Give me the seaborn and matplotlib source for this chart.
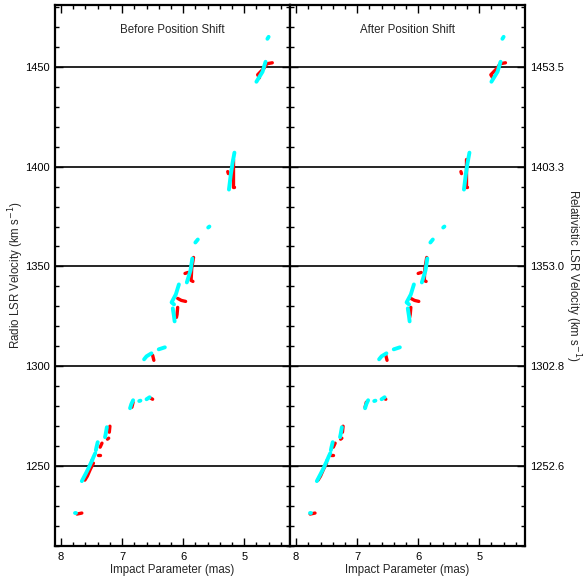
import numpy as np
import pandas as pd
import matplotlib
matplotlib.use("Agg")
import matplotlib.pyplot as plt
import seaborn as sns
from matplotlib.ticker import MultipleLocator

sns.set_style("ticks")
plt.rcParams["font.family"] = ["Liberation Sans", "DejaVu Sans"]

panel_titles = ["Before Position Shift", "After Position Shift"]
radio_ticks = [1250, 1300, 1350, 1400, 1450]
relativistic_labels = ["1252.6", "1302.8", "1353.0", "1403.3", "1453.5"]
x_ticks = [8, 7, 6, 5]

# cyan spots (impact parameter, radio velocity, feature id)
cyan_x = [4.60, 4.62,
          4.65, 4.70, 4.80,
          5.16, 5.19, 5.22, 5.25,
          5.57, 5.59,
          5.76, 5.80,
          5.85, 5.88, 5.92, 5.94,
          6.07, 6.12, 6.19, 6.15,
          6.17, 6.15, 6.14,
          6.64, 6.60, 6.52,
          6.40, 6.30,
          6.87, 6.85, 6.82,
          6.72, 6.70,
          6.60, 6.55,
          7.25, 7.27, 7.28,
          7.40, 7.42, 7.43,
          7.44, 7.47, 7.49,
          7.49, 7.55, 7.60, 7.66,
          7.78, 7.76]
cyan_y = [1465.0, 1464.0,
          1452.5, 1447.5, 1442.5,
          1407.0, 1402.0, 1396.0, 1388.5,
          1370.0, 1369.5,
          1363.5, 1362.0,
          1354.0, 1348.0, 1344.0, 1342.0,
          1341.0, 1336.0, 1332.0, 1331.0,
          1329.0, 1325.0, 1322.5,
          1303.5, 1305.0, 1306.5,
          1308.5, 1309.5,
          1279.0, 1281.0, 1283.0,
          1282.6, 1282.8,
          1283.5, 1284.5,
          1269.5, 1266.0, 1264.5,
          1262.0, 1259.5, 1258.0,
          1256.5, 1254.5, 1253.0,
          1253.0, 1249.0, 1246.0, 1242.5,
          1226.5, 1226.5]
cyan_seg = [0, 0, 1, 1, 1, 2, 2, 2, 2, 3, 3, 4, 4, 5, 5, 5, 5,
            6, 6, 6, 6, 7, 7, 7, 8, 8, 8, 9, 9, 10, 10, 10, 11, 11,
            12, 12, 13, 13, 13, 14, 14, 14, 15, 15, 15, 16, 16, 16, 16,
            17, 17]

# red spots
red_x = [4.54, 4.63, 4.67, 4.78, 4.75,
         5.19, 5.19, 5.19, 5.17,
         5.27, 5.26,
         5.83, 5.86, 5.87, 5.84,
         5.97, 5.92,
         6.09, 6.03, 5.96,
         6.09, 6.10, 6.11,
         6.50, 6.48,
         6.84, 6.82,
         6.53, 6.50,
         7.20, 7.21,
         7.22, 7.24,
         7.33, 7.36,
         7.37, 7.40,
         7.47, 7.52, 7.57, 7.61,
         7.74, 7.66]
red_y = [1452.0, 1451.5, 1449.5, 1446.0, 1444.5,
         1404.0, 1397.0, 1390.0, 1390.0,
         1397.5, 1396.5,
         1354.5, 1349.0, 1343.0, 1342.5,
         1346.5, 1347.0,
         1334.0, 1333.0, 1332.5,
         1329.5, 1326.0, 1324.5,
         1305.5, 1303.0,
         1279.5, 1282.0,
         1284.0, 1283.5,
         1270.0, 1267.0,
         1264.0, 1263.5,
         1261.5, 1259.5,
         1255.5, 1255.5,
         1251.5, 1248.5, 1245.0, 1243.0,
         1226.0, 1226.5]
red_seg = [0, 0, 0, 0, 0, 1, 1, 1, 1, 2, 2, 3, 3, 3, 3, 4, 4,
           5, 5, 5, 6, 6, 6, 7, 7, 8, 8, 9, 9, 10, 10, 11, 11,
           12, 12, 13, 13, 14, 14, 14, 14, 15, 15]
position_shift_mas = 0.03

cyan_df = pd.DataFrame({"x": cyan_x, "y": cyan_y, "seg": cyan_seg})
red_before = pd.DataFrame({"x": red_x, "y": red_y, "seg": red_seg})
red_after = red_before.assign(x=red_before["x"] + position_shift_mas)

FS = 8.0
LFS = 8.3
fig = plt.figure(figsize=(5.83, 5.80), dpi=100)
ax1 = fig.add_axes([0.0943, 0.0586, 0.4031, 0.933])
ax2 = fig.add_axes([0.4974, 0.0586, 0.4031, 0.933])

for ax, red_df, title in [(ax1, red_before, panel_titles[0]),
                          (ax2, red_after, panel_titles[1])]:
    for v in radio_ticks:
        ax.axhline(v, color="black", lw=1.2, zorder=1)
    sns.lineplot(data=red_df, x="x", y="y", units="seg", estimator=None,
                 sort=False, color="#ff0000", lw=2.4, ax=ax, zorder=2,
                 solid_capstyle="round")
    sns.lineplot(data=cyan_df, x="x", y="y", units="seg", estimator=None,
                 sort=False, color="#00ffff", lw=2.8, ax=ax, zorder=3,
                 solid_capstyle="round")
    ax.set_xlim(8.1, 4.25)
    ax.set_ylim(1210, 1481)
    ax.set_xticks(x_ticks)
    ax.xaxis.set_minor_locator(MultipleLocator(0.2))
    ax.yaxis.set_minor_locator(MultipleLocator(10))
    ax.tick_params(which="both", direction="in", top=True, right=True,
                   left=True, bottom=True, width=1.0, labelsize=FS,
                   colors="black", pad=4)
    ax.tick_params(which="major", length=6)
    ax.tick_params(which="minor", length=3)
    for s in ax.spines.values():
        s.set_linewidth(1.6)
        s.set_color("black")
    ax.set_xlabel("Impact Parameter (mas)", fontsize=LFS, labelpad=2)
    ax.text(0.5, 0.953, title, transform=ax.transAxes, ha="center",
            va="center", fontsize=LFS)

ax1.set_yticks(radio_ticks)
ax1.set_ylabel("Radio LSR Velocity (km s$^{-1}$)", fontsize=LFS, labelpad=-1)

ax2.set_yticks(radio_ticks)
ax2.set_yticklabels(relativistic_labels)
ax2.tick_params(labelleft=False, labelright=True)
ax2.yaxis.set_label_position("right")
ax2.set_ylabel("Relativistic LSR Velocity (km s$^{-1}$)", fontsize=LFS,
               rotation=-90, labelpad=13)

fig.savefig("out.png", dpi=100)
